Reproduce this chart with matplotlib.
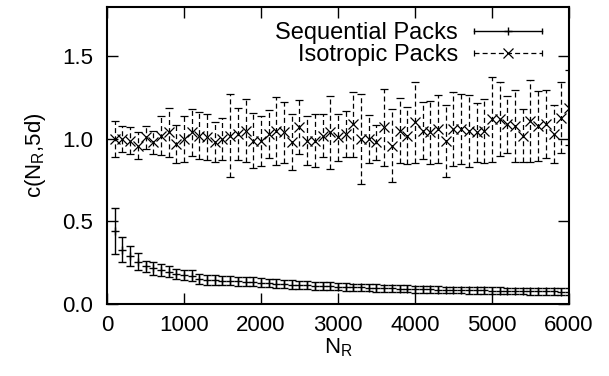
import matplotlib
matplotlib.use("Agg")
import matplotlib.pyplot as plt
from matplotlib.lines import Line2D
from matplotlib.legend_handler import HandlerLine2D

plt.rcParams['font.family'] = ['Liberation Sans', 'DejaVu Sans']
plt.rcParams['mathtext.default'] = 'regular'

# number of reference points N_R
n_r = list(range(100, 6100, 100))

# Sequential packs: c(N_R,5d) and error
seq_c = [0.44, 0.33, 0.29, 0.257, 0.228, 0.217, 0.206, 0.196, 0.182, 0.176,
         0.172, 0.152, 0.148, 0.146, 0.142, 0.141, 0.137, 0.136, 0.134, 0.130,
         0.126, 0.124, 0.120, 0.118, 0.116, 0.113, 0.111, 0.109, 0.108, 0.106,
         0.104, 0.101, 0.100, 0.098, 0.097, 0.095, 0.094, 0.093, 0.092, 0.090,
         0.089, 0.088, 0.087, 0.086, 0.086, 0.084, 0.083, 0.082, 0.082, 0.081,
         0.080, 0.079, 0.079, 0.078, 0.077, 0.077, 0.076, 0.076, 0.075, 0.075]
seq_err = [0.14, 0.075, 0.06, 0.05, 0.035, 0.04, 0.038, 0.033, 0.032, 0.032,
           0.031, 0.030, 0.030, 0.029, 0.029, 0.028, 0.028, 0.027, 0.027, 0.026,
           0.026, 0.025, 0.025, 0.025, 0.024, 0.024, 0.024, 0.023, 0.023, 0.023,
           0.023, 0.022, 0.022, 0.022, 0.022, 0.022, 0.021, 0.021, 0.021, 0.021,
           0.021, 0.021, 0.020, 0.020, 0.020, 0.020, 0.020, 0.020, 0.020, 0.020,
           0.020, 0.020, 0.020, 0.020, 0.020, 0.020, 0.020, 0.020, 0.020, 0.020]

# Isotropic packs: c(N_R,5d) and error
iso_c = [1.00, 1.00, 0.99, 0.96, 1.01, 0.98, 1.02, 1.04, 0.97, 1.00,
         1.04, 1.02, 1.01, 0.98, 1.00, 1.02, 1.03, 1.05, 0.99, 0.99,
         1.03, 1.05, 1.04, 0.98, 1.07, 0.99, 0.99, 1.02, 1.04, 1.01,
         1.03, 1.09, 1.00, 1.00, 0.98, 1.07, 0.96, 1.05, 1.02, 1.10,
         1.05, 1.04, 1.06, 0.99, 1.06, 1.06, 1.05, 1.04, 1.05, 1.12,
         1.12, 1.09, 1.08, 1.02, 1.11, 1.08, 1.09, 1.03, 1.13, 1.19]
iso_err = [0.111, 0.076, 0.080, 0.084, 0.069, 0.071, 0.118, 0.147, 0.116, 0.142,
           0.142, 0.142, 0.140, 0.121, 0.125, 0.253, 0.157, 0.190, 0.165, 0.152,
           0.147, 0.207, 0.184, 0.171, 0.164, 0.147, 0.160, 0.130, 0.220, 0.142,
           0.142, 0.197, 0.273, 0.147, 0.106, 0.231, 0.223, 0.197, 0.172, 0.243,
           0.174, 0.192, 0.204, 0.218, 0.223, 0.210, 0.218, 0.179, 0.195, 0.258,
           0.223, 0.172, 0.218, 0.162, 0.248, 0.213, 0.208, 0.177, 0.218, 0.228]

labels = ['Sequential Packs', 'Isotropic Packs']
dash = (0, (4, 2.5))

fig = plt.figure(figsize=(6.09, 3.76), dpi=100)
ax = fig.add_axes([0.1757, 0.1915, 0.7586, 0.79])

ax.errorbar(n_r, seq_c, yerr=seq_err, fmt='+', color='k', ms=6, mew=1,
            elinewidth=1, capsize=3, capthick=1)
iso = ax.errorbar(n_r, iso_c, yerr=iso_err, fmt='x', color='k', ms=7, mew=0.9,
                  elinewidth=0.9, capsize=3, capthick=0.9)
iso[2][0].set_linestyle(dash)

ax.set_xlim(0, 6000)
ax.set_ylim(0, 1.8)
ax.set_xticks([0, 1000, 2000, 3000, 4000, 5000, 6000])
ax.set_yticks([0.0, 0.5, 1.0, 1.5])
ax.set_yticklabels(['0.0', '0.5', '1.0', '1.5'])
ax.tick_params(direction='in', top=True, right=True, length=8, width=1,
               labelsize=16)
ax.tick_params(axis='x', pad=8)
ax.tick_params(axis='y', pad=10)
for s in ax.spines.values():
    s.set_linewidth(1.5)

ax.set_xlabel('N$_R$', fontsize=16, labelpad=0)
ax.set_ylabel('c(N$_R$,5d)', fontsize=16, labelpad=10)

# gnuplot style key: bar with end caps and marker in the middle
seq_line = Line2D([], [], color='k', lw=1, marker='|', ms=5, mew=1)
seq_mark = Line2D([], [], ls='none', color='k', marker='+', ms=6, mew=1)
iso_line = Line2D([], [], color='k', lw=0.9, ls=dash, marker='|', ms=5, mew=0.9)
iso_mark = Line2D([], [], ls='none', color='k', marker='x', ms=7, mew=0.9)
hmap = {seq_line: HandlerLine2D(numpoints=2, marker_pad=0),
        iso_line: HandlerLine2D(numpoints=2, marker_pad=0),
        seq_mark: HandlerLine2D(numpoints=1),
        iso_mark: HandlerLine2D(numpoints=1)}
ax.legend([(seq_line, seq_mark), (iso_line, iso_mark)], labels, handler_map=hmap,
          loc='upper right', bbox_to_anchor=(0.9416, 0.95), borderaxespad=0,
          borderpad=0, frameon=False, markerfirst=False, fontsize=17,
          handlelength=2.9, handletextpad=0.65, labelspacing=0)

fig.savefig('out.png', dpi=100)
